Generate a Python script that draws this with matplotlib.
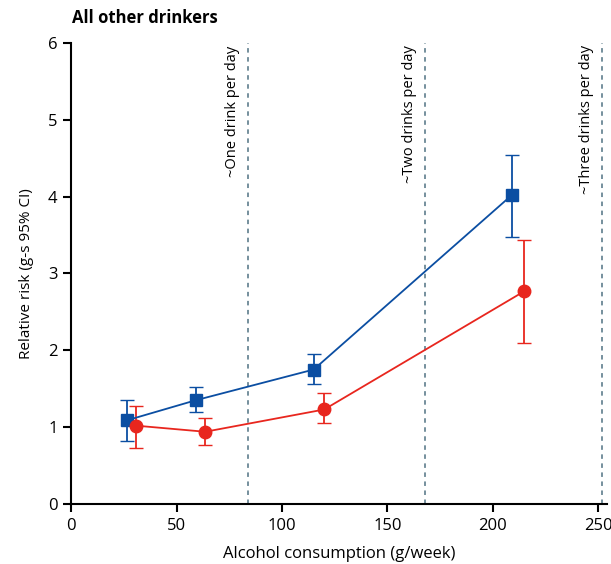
import matplotlib.pyplot as plt

plt.rcParams['font.family'] = ['Open Sans', 'DejaVu Sans']

# Blue series (squares)
blue_x = [26.5, 59, 115, 209]
blue_y = [1.09, 1.35, 1.75, 4.02]
blue_lo = [0.82, 1.20, 1.56, 3.48]
blue_hi = [1.35, 1.52, 1.95, 4.54]

# Red series (circles)
red_x = [30.5, 63.5, 120, 215]
red_y = [1.02, 0.94, 1.23, 2.77]
red_lo = [0.73, 0.77, 1.05, 2.10]
red_hi = [1.28, 1.12, 1.44, 3.44]

drink_x = [84, 168, 252]
drink_labels = ["~One drink per day", "~Two drinks per day", "~Three drinks per day"]

blue = '#0b4ea2'
red = '#e8261e'

fig = plt.figure(figsize=(6.11, 5.64), dpi=100)
ax = fig.add_axes([0.1168, 0.1064, 0.876, 0.8174])

for x, lab in zip(drink_x, drink_labels):
    ax.axvline(x, color='#6a8795', ls=(0, (2.5, 2.5)), lw=1.3, zorder=1)
    ax.text(x - 4, 5.97, lab, rotation=90, ha='right', va='top', fontsize=10.5)

ax.errorbar(blue_x, blue_y,
            yerr=[[y - l for y, l in zip(blue_y, blue_lo)], [h - y for y, h in zip(blue_y, blue_hi)]],
            color=blue, marker='s', ms=9, lw=1.3, capsize=5, elinewidth=1.3, zorder=3)
ax.errorbar(red_x, red_y,
            yerr=[[y - l for y, l in zip(red_y, red_lo)], [h - y for y, h in zip(red_y, red_hi)]],
            color=red, marker='o', ms=9, lw=1.3, capsize=5, elinewidth=1.3, zorder=3)

ax.set_xlim(0, 254)
ax.set_ylim(0, 6)
ax.set_xticks([0, 50, 100, 150, 200, 250])
ax.set_yticks([0, 1, 2, 3, 4, 5, 6])
ax.spines['top'].set_visible(False)
ax.spines['right'].set_visible(False)
ax.spines['left'].set_linewidth(1.5)
ax.spines['bottom'].set_linewidth(1.5)
ax.tick_params(width=1.5, length=6, labelsize=12, pad=4)

ax.set_xlabel("Alcohol consumption (g/week)", fontsize=12, labelpad=9)
ax.set_ylabel("Relative risk (g-s 95% CI)", fontsize=11, labelpad=10)
fig.text(0.118, 0.968, "All other drinkers", fontsize=12, fontweight='bold', ha='left', va='center')

fig.savefig('out.png', dpi=100)
